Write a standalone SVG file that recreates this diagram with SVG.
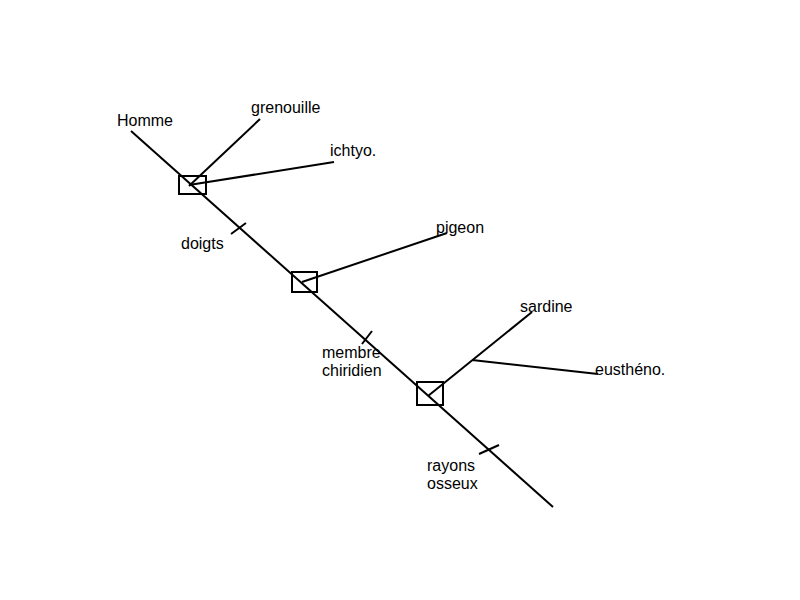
<svg xmlns="http://www.w3.org/2000/svg" width="800" height="600" viewBox="0 0 800 600">
<style>
.l{stroke:#000;stroke-width:2;fill:none}
.b{stroke:#000;stroke-width:2;fill:none}
text{font-family:"Liberation Sans",Arial,sans-serif;font-size:16px;fill:#000}
</style>
<rect width="800" height="600" fill="#fff"/>
<g id="connectors">
<line class="l" x1="131" y1="131" x2="553" y2="507"/>
<line class="l" x1="260" y1="119" x2="189" y2="186"/>
<line class="l" x1="334" y1="162" x2="189" y2="185"/>
<line class="l" x1="447" y1="233" x2="302" y2="282"/>
<line class="l" x1="532" y1="312" x2="428" y2="396"/>
<line class="l" x1="598" y1="374" x2="472" y2="360"/>
<line class="l" x1="231" y1="234" x2="246" y2="223"/>
<line class="l" x1="362" y1="344" x2="372" y2="331"/>
<line class="l" x1="479" y1="454" x2="499" y2="445"/>
</g>
<g id="node1"><rect class="b" x="179" y="176" width="27" height="18"/></g>
<g id="node2"><rect class="b" x="292" y="272" width="25" height="20"/></g>
<g id="node3"><rect class="b" x="417" y="382" width="26" height="23"/></g>
<g id="labels">
<text x="117" y="126">Homme</text>
<text x="251" y="113">grenouille</text>
<text x="330" y="156">ichtyo.</text>
<text x="181" y="249">doigts</text>
<text x="436" y="233">pigeon</text>
<text x="520" y="312">sardine</text>
<text x="322" y="358">membre</text>
<text x="322" y="376">chiridien</text>
<text x="595" y="375">eusthéno.</text>
<text x="427" y="471">rayons</text>
<text x="427" y="489">osseux</text>
</g>
</svg>
